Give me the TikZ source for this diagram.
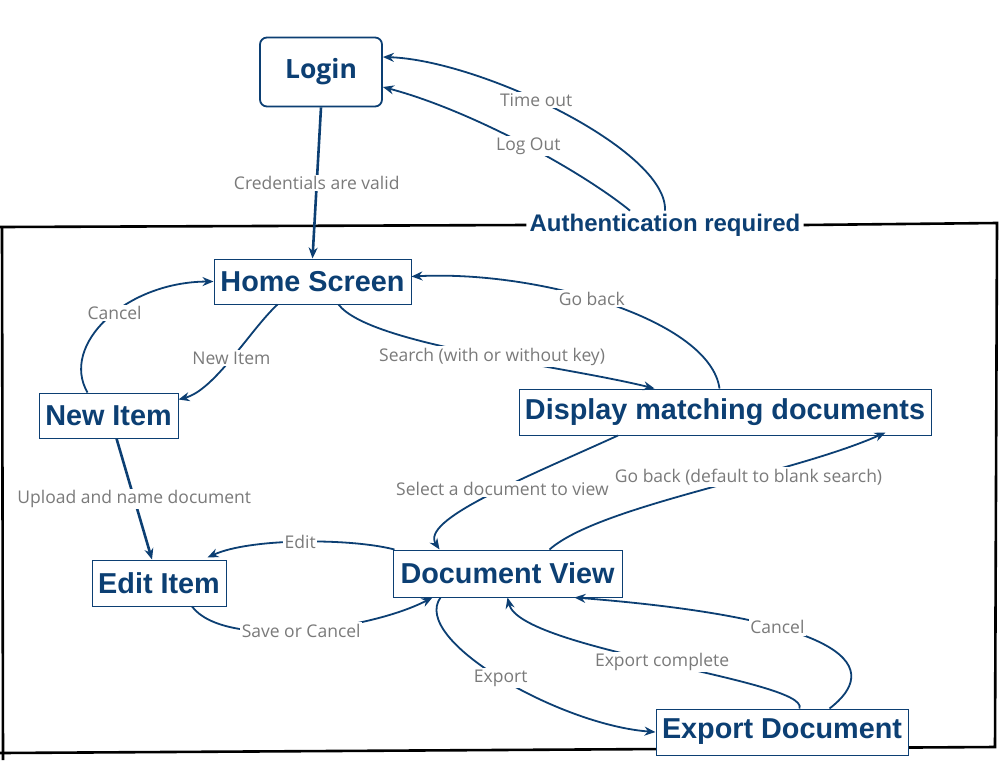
\documentclass[tikz,border=0pt]{standalone}
\usepackage{fontspec}
\setmainfont{Liberation Sans}
\newfontfamily\lblfont{Open Sans}
\usetikzlibrary{arrows.meta,calc}
\definecolor{dblue}{HTML}{0C3F73}
\definecolor{lgray}{HTML}{7A7A7A}
\tikzset{
  box/.style={draw=dblue, line width=1pt, text=dblue, inner sep=0pt,
    font=\bfseries\fontsize{28.8}{31}\selectfont},
  edge/.style={draw=dblue, line width=1.8pt, -{Stealth[length=11pt,width=9pt]}},
  thickedge/.style={edge, line width=2.6pt},
  lbl/.style={fill=white, text=lgray, inner sep=1.5pt,
    font=\lblfont\fontsize{17.5}{19}\selectfont},
  frame/.style={draw=black, line width=2.6pt}
}
\begin{document}
\begin{tikzpicture}[x=1pt,y=-1pt]
\useasboundingbox (0,0) rectangle (1006,772);
\fill[white] (0,0) rectangle (1006,772);

% nodes
\node[box, rounded corners=7pt, line width=1.8pt, minimum width=122pt, minimum height=69pt,
  font=\lblfont\bfseries\fontsize{26.5}{28}\selectfont] (login) at (321,72) {Login};
\node[text=dblue, font=\bfseries\fontsize{24}{26}\selectfont, inner sep=3pt] (auth) at (665,225) {Authentication required};
\node[box, minimum width=197pt, minimum height=45pt] (home) at (312.5,281.5) {Home Screen};
\node[box, minimum width=139pt, minimum height=45pt] (newitem) at (108.5,415.5) {New Item};
\node[box, minimum width=412pt, minimum height=46pt] (display) at (725,412) {Display matching documents};
\node[box, minimum width=134pt, minimum height=46pt] (edititem) at (159,583) {Edit Item};
\node[box, minimum width=229pt, minimum height=47pt] (docview) at (507.5,573.5) {Document View};

% frame
\coordinate (ftl) at (0,227);
\coordinate (ftr) at (997,223);
\coordinate (fbr) at (995,747);
\coordinate (fbl) at (0,753);
\coordinate (flt) at (2,227);
\coordinate (flb) at (3,760);
\draw[frame] (ftl) -- (auth.west);
\draw[frame] (auth.east) -- (ftr) -- (fbr) -- (fbl);
\draw[frame] (flt) -- (flb);

\node[box, fill=white, minimum width=252pt, minimum height=46pt] (expdoc) at (782,732) {Export Document};

% edges
\draw[thickedge] (login.south) -- (home.north)
  node[lbl, pos=0.5] (l1) {Credentials are valid};
\draw[edge] ($(auth.north)+(0,0)$) .. controls (668,150) and (480,60) .. ($(login.east)+(0,-15)$)
  node[lbl, pos=0.57] (l2) {Time out};
\draw[edge] ($(auth.north)+(-35,0)$) .. controls (580,170) and (470,110) .. ($(login.east)+(0,15)$)
  node[lbl, pos=0.47] (l3) {Log Out};
\draw[edge] ($(newitem.north west)+(49,0)$) .. controls (60,345) and (125,282) .. (home.west)
  node[lbl, pos=0.55] (l4) {Cancel};
\draw[edge] ($(home.south)+(-35,0)$) .. controls (250,330) and (215,390) .. ($(newitem.north east)+(0,7)$)
  node[lbl, pos=0.5] (l5) {New Item};
\draw[edge] ($(home.south)+(26,0)$) .. controls (370,345) and (560,365) .. ($(display.north west)+(136,0)$)
  node[lbl, pos=0.55] (l6) {Search (with or without key)};
\draw[edge] ($(display.north west)+(201,0)$) .. controls (710,320) and (540,270) .. ($(home.east)+(0,-5)$)
  node[lbl, pos=0.55] (l7) {Go back};
\draw[thickedge] ($(newitem.south)+(8,0)$) -- ($(edititem.north)+(-7,0)$)
  node[lbl, pos=0.5] (l8) {Upload and name document};
\draw[edge] ($(display.south)+(-107,0)$) .. controls (520,480) and (420,520) .. ($(docview.north west)+(47,0)$)
  node[lbl, pos=0.42] (l9) {Select a document to view};
\draw[edge] ($(docview.north west)+(157,0)$) .. controls (600,505) and (790,475) .. ($(display.south east)+(-46,-3)$)
  node[lbl, pos=0.62] (l10) {Go back (default to blank search)};
\draw[edge] ($(docview.north west)+(2,0)$) .. controls (350,538) and (250,538) .. ($(edititem.north east)+(-19,-2)$)
  node[lbl, pos=0.5] (l11) {Edit};
\draw[edge] ($(edititem.south)+(33,0)$) .. controls (225,650) and (370,630) .. ($(docview.south west)+(40,0)$)
  node[lbl, pos=0.5] (l12) {Save or Cancel};
\draw[edge] ($(docview.south west)+(48,0)$) .. controls (410,640) and (560,725) .. (expdoc.west)
  node[lbl, pos=0.5] (l13) {Export};
\draw[edge] ($(expdoc.north west)+(144,0)$) .. controls (810,680) and (520,650) .. (docview.south)
  node[lbl, pos=0.5] (l14) {Export complete};
\draw[edge] ($(expdoc.north west)+(174,0)$) .. controls (880,670) and (860,620) .. ($(docview.south west)+(182,0)$)
  node[lbl, pos=0.67] (l15) {Cancel};
\end{tikzpicture}
\end{document}
